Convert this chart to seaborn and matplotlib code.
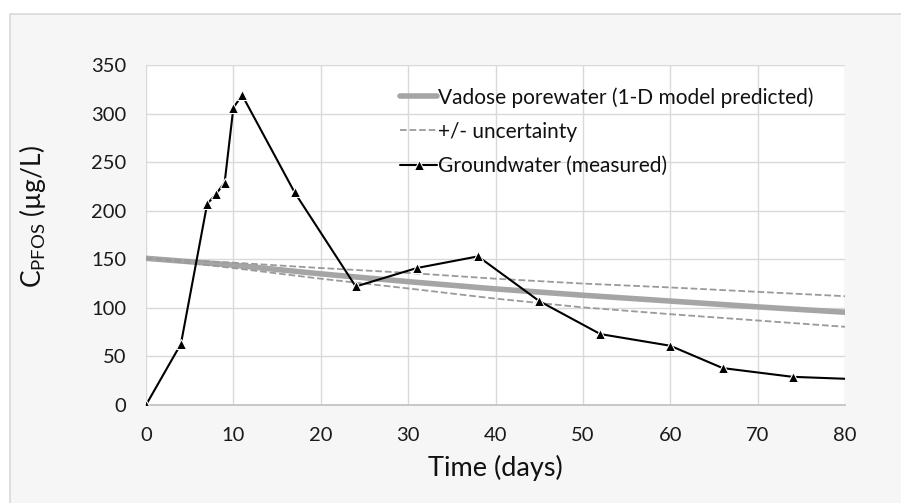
import numpy as np
import seaborn as sns
import matplotlib
matplotlib.use('Agg')
import matplotlib.pyplot as plt
from matplotlib.patches import Rectangle

# groundwater (measured)
gw_days = [0, 4, 7, 8, 9, 10, 11, 17, 24, 31, 38, 45, 52, 60, 66, 74, 80]
gw_conc = [0, 63, 207, 217, 229, 306, 319, 219, 122, 141, 153, 107, 73, 61, 38, 29, 27]

# vadose porewater, 1-D model prediction with uncertainty band
model_days = [0, 10, 20, 30, 40, 50, 60, 70, 80]
model_conc = [151, 144, 135, 127, 119.5, 113, 107, 101, 95.5]
upper_conc = [151, 146.5, 141, 136, 130, 125, 121, 116.5, 112]
lower_conc = [151, 141, 130, 120, 109.5, 100.5, 93.5, 87, 80.5]

x_ticks = [0, 10, 20, 30, 40, 50, 60, 70, 80]
y_ticks = [0, 50, 100, 150, 200, 250, 300, 350]

sns.set_theme(style='white')
plt.rcParams['font.family'] = ['Lato', 'DejaVu Sans']
plt.rcParams['mathtext.fontset'] = 'custom'
plt.rcParams['mathtext.rm'] = 'Lato'

fig = plt.figure(figsize=(9.01, 5.03), dpi=100)
fig.patch.set_facecolor('white')
# outer chart box
fig.patches.append(Rectangle((10 / 901, -0.05), 1.0, 1 - 14 / 503 + 0.05, transform=fig.transFigure,
                             facecolor='#f6f6f6', edgecolor='#d9d9d9', lw=1.2, zorder=-5))

ax = fig.add_axes([146 / 901, 1 - 405 / 503, (845 - 146) / 901, (405 - 65) / 503])
ax.set_zorder(2)
ax.set_facecolor('white')

sns.lineplot(x=model_days, y=model_conc, ax=ax, color='#a5a5a5', lw=4,
             label='Vadose porewater (1-D model predicted)', zorder=3)
sns.lineplot(x=model_days, y=upper_conc, ax=ax, color='#9a9a9a', lw=1.3,
             dashes=(4, 3), linestyle='--', label='+/- uncertainty', zorder=3)
sns.lineplot(x=model_days, y=lower_conc, ax=ax, color='#9a9a9a', lw=1.3,
             dashes=(4, 3), linestyle='--', legend=False, zorder=3)
sns.lineplot(x=gw_days, y=gw_conc, ax=ax, color='black', lw=1.5, marker='^', markersize=7,
             markevery=list(range(len(gw_days) - 1)), label='Groundwater (measured)', zorder=4)

ax.set_xlim(0, 80)
ax.set_ylim(0, 350)
ax.set_xticks(x_ticks)
ax.set_yticks(y_ticks)
ax.grid(True, color='#d9d9d9', lw=1)
ax.set_axisbelow(True)
for s in ['top', 'right', 'left']:
    ax.spines[s].set_visible(False)
ax.spines['bottom'].set_color('#bfbfbf')
ax.spines['bottom'].set_linewidth(1.2)
ax.tick_params(axis='both', length=0, labelsize=14.5, colors='#1a1a1a')
ax.tick_params(axis='y', pad=14)
ax.tick_params(axis='x', pad=16)

ax.set_xlabel('Time (days)', fontsize=19.5, color='#111111', labelpad=8)
ax.set_ylabel(r'C$_{\mathregular{PFOS}}$ (µg/L)', fontsize=19, color='#111111')
ax.yaxis.set_label_coords(-0.14, 0.553)

leg = ax.legend(loc='upper left', bbox_to_anchor=(0.352, 0.96), frameon=False, fontsize=15,
                handlelength=1.75, handletextpad=0.05, labelspacing=0.68, borderaxespad=0)
for t in leg.get_texts():
    t.set_color('#111111')

fig.savefig('out.png', dpi=100)
